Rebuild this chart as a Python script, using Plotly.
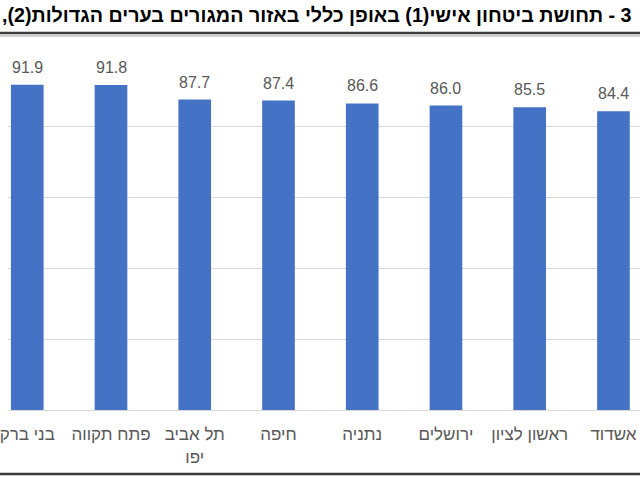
import plotly.graph_objects as go

categories = ["בני ברק", "פתח תקווה", "תל אביב<br>יפו", "חיפה", "נתניה", "ירושלים", "ראשון לציון", "אשדוד"]
values = [91.9, 91.8, 87.7, 87.4, 86.6, 86.0, 85.5, 84.4]
value_labels = ["91.9", "91.8", "87.7", "87.4", "86.6", "86.0", "85.5", "84.4"]
title_text = "\u202B3 - תחושת ביטחון אישי(1) באופן כללי באזור המגורים בערים הגדולות(2),\u202C"

fig = go.Figure()
fig.add_trace(go.Bar(x=categories, y=values, marker=dict(color="#4472C4", line=dict(width=0)),
                     width=0.39, hoverinfo="skip"))

for c, v, t in zip(categories, values, value_labels):
    fig.add_annotation(x=c, y=v, text=t, showarrow=False, yanchor="bottom", yshift=7,
                       font=dict(family="Liberation Sans, Arial", size=16, color="#595959"))

fig.add_annotation(xref="paper", yref="paper", x=1, y=(410 - 15) / 354, xanchor="right", yanchor="middle",
                   xshift=-6, text=title_text, showarrow=False,
                   font=dict(family="Liberation Sans, Arial", size=19.7, color="#000000", weight="bold"))

for yp, col, w in [(33, "#3a3a3a", 2.5), (36, "#a0a0a0", 1), (474, "#3a3a3a", 2.5)]:
    fig.add_shape(type="line", xref="paper", yref="paper", x0=-0.1, x1=1.1,
                  y0=(410 - yp) / 354, y1=(410 - yp) / 354, line=dict(color=col, width=w))

fig.update_layout(
    width=640, height=480,
    margin=dict(l=0, r=0, t=56, b=70),
    paper_bgcolor="white", plot_bgcolor="white",
    showlegend=False,
    xaxis=dict(range=[-0.23, 7.317], showgrid=False, showline=True, linecolor="#d9d9d9", linewidth=1,
               ticks="", ticklabelstandoff=9,
               tickfont=dict(family="Liberation Sans, Arial", size=17, color="#595959"), fixedrange=True),
    yaxis=dict(range=[0, 100], dtick=20, showgrid=True, gridcolor="#d9d9d9", gridwidth=1,
               showticklabels=False, zeroline=False, fixedrange=True),
)

fig.write_html("out.html")
